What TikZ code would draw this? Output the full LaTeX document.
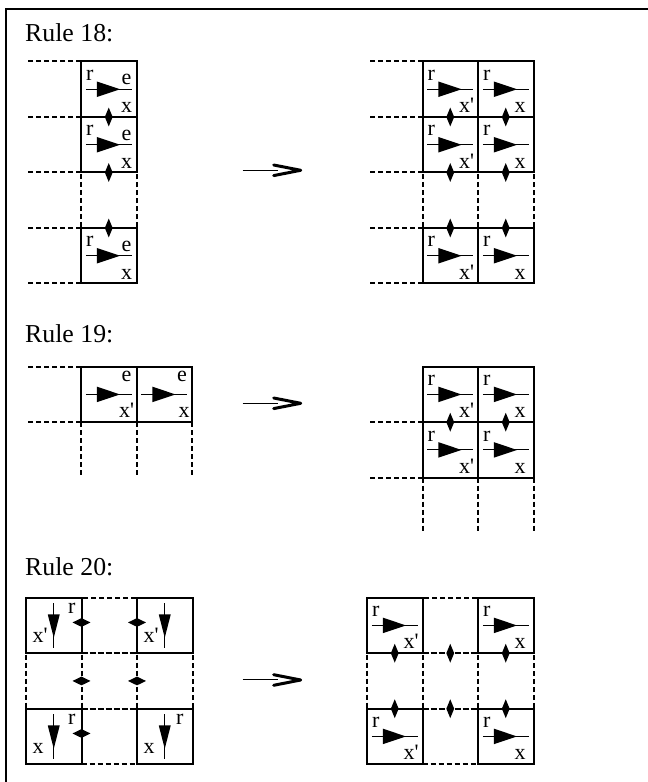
\documentclass[tikz,border=0pt]{standalone}
\usepackage{fontspec}
\setmainfont{Liberation Serif}
\usetikzlibrary{positioning, shapes.geometric}

\begin{document}
\begin{tikzpicture}[
    x=1pt, y=1pt,
    node distance=0pt,
    cell/.style={draw, line width=2pt, minimum size=55.5pt,
                 inner sep=0pt, outer sep=0pt},
    dcell/.style={cell, dash pattern=on 5pt off 3pt},
    dline/.style={line width=2pt, dash pattern=on 5pt off 3pt},
    lab/.style={font=\fontsize{22}{26}\selectfont, inner sep=0pt,
                outer sep=0pt, anchor=base west},
    rlab/.style={lab, xshift=5pt, yshift=-19pt},
    elab/.style={lab, anchor=base east, xshift=-5pt, yshift=-23.5pt},
    xlab/.style={lab, xshift=36.5pt, yshift=4.3pt},
    xelab/.style={lab, anchor=base east, xshift=-4.5pt, yshift=4.3pt},
    vrlab/.style={lab, xshift=42pt, yshift=-16pt},
    vxlab/.style={lab, xshift=6.5pt, yshift=10.5pt},
    rulename/.style={font=\fontsize{25.8}{30}\selectfont, anchor=base west,
                     inner sep=0pt},
    vdia/.style={diamond, fill, inner sep=0pt, minimum width=8pt,
                 minimum height=19pt},
    hdia/.style={diamond, fill, inner sep=0pt, minimum width=18pt,
                 minimum height=9pt},
    harrow/.pic={
      \draw[line width=1pt] (-22.8,0) -- (22.8,0);
      \fill (-12,7.8) -- (11.3,0) -- (-12,-7.8) -- cycle;
    },
    varrow/.pic={
      \draw[line width=1pt] (0,22) -- (0,-23);
      \fill (-6,11) -- (0,-12.3) -- (6,11) -- cycle;
    },
    rulearrow/.pic={
      \draw[line width=1pt] (0,0) -- (35.5,0);
      \draw[line width=3pt, line join=round, line cap=round]
        (31,5.3) -- (58,0) -- (31,-5.3);
    },
]

\useasboundingbox (0,0) rectangle (648,782);

% === Frame ===
\draw[line width=1.2pt] (6,0) -- (6,773) -- (648,773);

% === Rule 18 ===
\node[rulename] (t18) at (25,740) {Rule 18:};

% left column
\node[cell, label={[rlab]north west:r}, label={[elab]north east:e},
      label={[xelab]south east:x}] (L18a) at (108.75,692.75) {};
\node[cell, below=of L18a, label={[rlab]north west:r}, label={[elab]north east:e},
      label={[xelab]south east:x}] (L18b) {};
\node[dcell, below=of L18b] (L18c) {};
\node[cell, below=of L18c, label={[rlab]north west:r}, label={[elab]north east:e},
      label={[xelab]south east:x}] (L18d) {};
\pic at (L18a) {harrow};
\pic at (L18b) {harrow};
\pic at (L18d) {harrow};

\draw[dline] (L18a.north west) -- +(-55.5,0);
\draw[dline] (L18a.south west) -- +(-55.5,0);
\draw[dline] (L18b.south west) -- +(-55.5,0);
\draw[dline] (L18d.north west) -- +(-55.5,0);
\draw[dline] (L18d.south west) -- +(-55.5,0);

\node[vdia] (dL18a) at (L18a.south) {};
\node[vdia] (dL18b) at (L18b.south) {};
\node[vdia] (dL18d) at (L18d.north) {};

\pic at (242.7,611.7) {rulearrow};

% right block
\node[cell, label={[rlab]north west:r},
      label={[xlab]south west:x\textquotesingle}] (R18a1) at (450.25,692.75) {};
\node[cell, right=of R18a1, label={[rlab]north west:r},
      label={[xlab]south west:x}] (R18a2) {};
\node[cell, below=of R18a1, label={[rlab]north west:r},
      label={[xlab]south west:x\textquotesingle}] (R18b1) {};
\node[cell, right=of R18b1, label={[rlab]north west:r},
      label={[xlab]south west:x}] (R18b2) {};
\node[dcell, below=of R18b1] (R18c1) {};
\node[dcell, right=of R18c1] (R18c2) {};
\node[cell, below=of R18c1, label={[rlab]north west:r},
      label={[xlab]south west:x\textquotesingle}] (R18d1) {};
\node[cell, right=of R18d1, label={[rlab]north west:r},
      label={[xlab]south west:x}] (R18d2) {};
\pic at (R18a1) {harrow};
\pic at (R18a2) {harrow};
\pic at (R18b1) {harrow};
\pic at (R18b2) {harrow};
\pic at (R18d1) {harrow};
\pic at (R18d2) {harrow};

\draw[dline] (R18a1.north west) -- +(-55.5,0);
\draw[dline] (R18a1.south west) -- +(-55.5,0);
\draw[dline] (R18b1.south west) -- +(-55.5,0);
\draw[dline] (R18d1.north west) -- +(-55.5,0);
\draw[dline] (R18d1.south west) -- +(-55.5,0);

\node[vdia] (dR18a1) at (R18a1.south) {};
\node[vdia] (dR18a2) at (R18a2.south) {};
\node[vdia] (dR18b1) at (R18b1.south) {};
\node[vdia] (dR18b2) at (R18b2.south) {};
\node[vdia] (dR18d1) at (R18d1.north) {};
\node[vdia] (dR18d2) at (R18d2.north) {};

% === Rule 19 ===
\node[rulename] (t19) at (25,439.3) {Rule 19:};

\node[cell, label={[elab, yshift=8.5pt]north east:e},
      label={[xelab, xshift=2pt]south east:x\textquotesingle}] (L19a) at (108.75,387.55) {};
\node[cell, right=of L19a, label={[elab, yshift=8.5pt]north east:e},
      label={[xelab, xshift=2pt]south east:x}] (L19b) {};
\pic at (L19a) {harrow};
\pic at (L19b) {harrow};

\draw[dline] (L19a.north west) -- +(-55.5,0);
\draw[dline] (L19a.south west) -- +(-55.5,0);
\draw[dline] (L19a.south west) -- +(0,-54.5);
\draw[dline] (L19a.south east) -- +(0,-54.5);
\draw[dline] (L19b.south east) -- +(0,-54.5);

\pic at (242.7,378.7) {rulearrow};

\node[cell, label={[rlab]north west:r},
      label={[xlab]south west:x\textquotesingle}] (R19a1) at (450.25,387.55) {};
\node[cell, right=of R19a1, label={[rlab]north west:r},
      label={[xlab]south west:x}] (R19a2) {};
\node[cell, below=of R19a1, label={[rlab]north west:r},
      label={[xlab]south west:x\textquotesingle}] (R19b1) {};
\node[cell, right=of R19b1, label={[rlab]north west:r},
      label={[xlab]south west:x}] (R19b2) {};
\pic at (R19a1) {harrow};
\pic at (R19a2) {harrow};
\pic at (R19b1) {harrow};
\pic at (R19b2) {harrow};

\draw[dline] (R19a1.south west) -- +(-55.5,0);
\draw[dline] (R19b1.south west) -- +(-55.5,0);
\draw[dline] (R19b1.south west) -- +(0,-54.6);
\draw[dline] (R19b1.south east) -- +(0,-54.6);
\draw[dline] (R19b2.south east) -- +(0,-54.6);

\node[vdia] (dR19a1) at (R19a1.south) {};
\node[vdia] (dR19a2) at (R19a2.south) {};

% === Rule 20 ===
\node[rulename] (t20) at (25,206) {Rule 20:};

% left block, vertical arrows
\node[cell, label={[vrlab]north west:r},
      label={[vxlab]south west:x\textquotesingle}] (L20a1) at (53.75,156.55) {};
\node[dcell, right=of L20a1] (L20a2) {};
\node[cell, right=of L20a2,
      label={[vxlab]south west:x\textquotesingle}] (L20a3) {};
\node[dcell, below=of L20a1] (L20b1) {};
\node[dcell, right=of L20b1] (L20b2) {};
\node[dcell, right=of L20b2] (L20b3) {};
\node[cell, below=of L20b1, label={[vrlab]north west:r},
      label={[vxlab]south west:x}] (L20c1) {};
\node[dcell, right=of L20c1] (L20c2) {};
\node[cell, right=of L20c2, label={[vrlab, xshift=-3pt]north west:r},
      label={[vxlab]south west:x}] (L20c3) {};
\pic at (L20a1) {varrow};
\pic at (L20a3) {varrow};
\pic at (L20c1) {varrow};
\pic at (L20c3) {varrow};

\node[hdia, yshift=3pt] (dL20a1) at (L20a1.east) {};
\node[hdia, yshift=3pt] (dL20a3) at (L20a3.west) {};
\node[hdia] (dL20b1) at (L20b1.east) {};
\node[hdia] (dL20b3) at (L20b3.west) {};
\node[hdia, yshift=3pt] (dL20c1) at (L20c1.east) {};

\pic at (242.7,102) {rulearrow};

% right block
\node[cell, label={[rlab]north west:r},
      label={[xlab]south west:x\textquotesingle}] (R20a1) at (394.75,156.55) {};
\node[dcell, right=of R20a1] (R20a2) {};
\node[cell, right=of R20a2, label={[rlab]north west:r},
      label={[xlab]south west:x}] (R20a3) {};
\node[dcell, below=of R20a1] (R20b1) {};
\node[dcell, right=of R20b1] (R20b2) {};
\node[dcell, right=of R20b2] (R20b3) {};
\node[cell, below=of R20b1, label={[rlab]north west:r},
      label={[xlab]south west:x\textquotesingle}] (R20c1) {};
\node[dcell, right=of R20c1] (R20c2) {};
\node[cell, right=of R20c2, label={[rlab]north west:r},
      label={[xlab]south west:x}] (R20c3) {};
\pic at (R20a1) {harrow};
\pic at (R20a3) {harrow};
\pic at (R20c1) {harrow};
\pic at (R20c3) {harrow};

\node[vdia] (dR20a1) at (R20a1.south) {};
\node[vdia] (dR20a2) at (R20a2.south) {};
\node[vdia] (dR20a3) at (R20a3.south) {};
\node[vdia] (dR20c1) at (R20c1.north) {};
\node[vdia] (dR20c2) at (R20c2.north) {};
\node[vdia] (dR20c3) at (R20c3.north) {};

\end{tikzpicture}
\end{document}
